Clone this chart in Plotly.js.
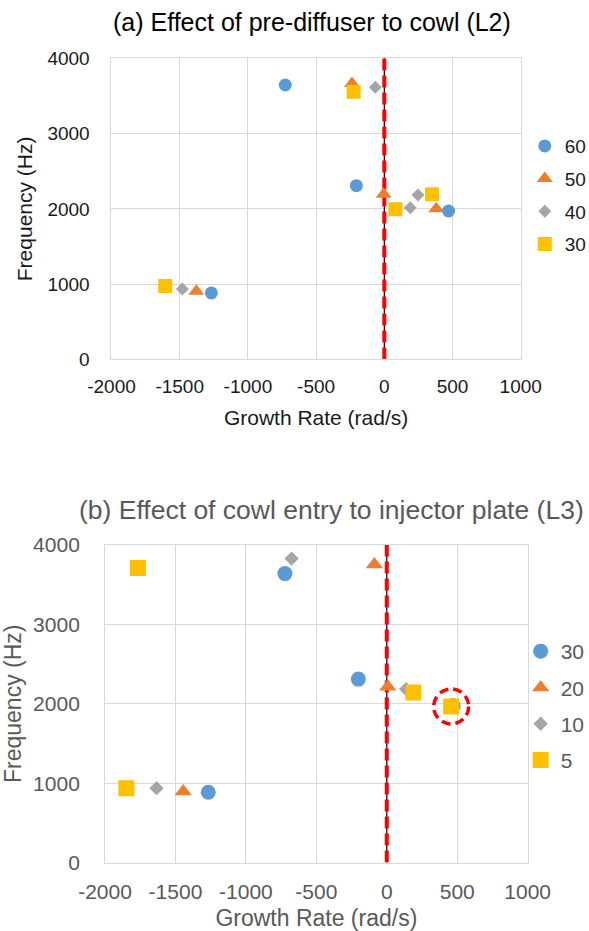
<!DOCTYPE html>
<html>
<head>
<meta charset="utf-8">
<script src="https://cdn.plot.ly/plotly-3.0.1.min.js"></script>
<style>html,body{margin:0;padding:0;background:#fff;}#chart{width:589px;height:931px;}</style>
</head>
<body>
<div id="chart"></div>
<script>
// ---------- Data: (a) Effect of pre-diffuser to cowl (L2) ----------
const namesA = ["60", "50", "40", "30"];
const a60x = [-1268, -726, -205, 471];
const a60y = [883, 3645, 2308, 1972];
const a50x = [-1378, -237, -5, 381];
const a50y = [905, 3665, 2195, 2000];
const a40x = [-1481, -66, 190, 247];
const a40y = [936, 3615, 2016, 2185];
const a30x = [-1606, -225, 81, 350];
const a30y = [976, 3557, 1995, 2194];

// ---------- Data: (b) Effect of cowl entry to injector plate (L3) ----------
const namesB = ["30", "20", "10", "5"];
const b30x = [-1267, -723, -202, 470];
const b30y = [886, 3640, 2311, 1975];
const b20x = [-1445, -88, 7, 465];
const b20y = [895, 3755, 2215, 1985];
const b10x = [-1634, -676, 137, 455];
const b10y = [937, 3829, 2185, 1975];
const b5x = [-1849, -1767, 189, 457];
const b5y = [937, 3711, 2143, 1966];

// highlighted point (b)
const highlightX = 457;
const highlightY = 1966;

// stability boundary
const boundaryX = [0, 0];
const boundaryY = [0, 4000];

// ticks
const xTicks = [-2000, -1500, -1000, -500, 0, 500, 1000];
const yTicks = [0, 1000, 2000, 3000, 4000];

const colors = ["#5B9BD5", "#ED7D31", "#A5A5A5", "#FFC000"];
const symbols = ["circle", "triangle-up", "diamond", "square"];
const sizesA = [13, 14, 10, 14];
const sizesB = [15, 15, 11, 16];

const FONT = "Liberation Sans, Arial, sans-serif";
const darkText = "#1a1a1a";
const greyText = "#595959";
const gridCol = "#d9d9d9";

const seriesA = [[a60x, a60y], [a50x, a50y], [a40x, a40y], [a30x, a30y]];
const seriesB = [[b30x, b30y], [b20x, b20y], [b10x, b10y], [b5x, b5y]];

const traces = [];
// boundary lines
[["x", "y"], ["x2", "y2"]].forEach(function (ax) {
  traces.push({x: boundaryX, y: boundaryY, xaxis: ax[0], yaxis: ax[1], mode: "lines",
    line: {color: "#000000", width: 1.2}, showlegend: false, hoverinfo: "skip"});
  traces.push({x: boundaryX, y: boundaryY, xaxis: ax[0], yaxis: ax[1], mode: "lines",
    line: {color: "#FF0000", width: 4, dash: "12px,5px"}, showlegend: false, hoverinfo: "skip"});
});

seriesA.forEach(function (s, i) {
  traces.push({x: s[0], y: s[1], xaxis: "x", yaxis: "y", mode: "markers", type: "scatter",
    name: namesA[i], legend: "legend", legendgroup: "a" + i,
    marker: {color: colors[i], symbol: symbols[i], size: sizesA[i]}});
});
seriesB.forEach(function (s, i) {
  traces.push({x: s[0], y: s[1], xaxis: "x2", yaxis: "y2", mode: "markers", type: "scatter",
    name: namesB[i], legend: "legend2", legendgroup: "b" + i,
    marker: {color: colors[i], symbol: symbols[i], size: sizesB[i]}});
});

function xaxisDef(domain, anchor, color, fsize, tfsize, standoff) {
  return {domain: domain, anchor: anchor, range: [-2000, 1000], tickvals: xTicks,
    ticktext: xTicks.map(String), showgrid: true, gridcolor: gridCol, gridwidth: 1,
    zeroline: false, showline: true, mirror: true, linecolor: gridCol, linewidth: 1,
    ticks: "", ticklabelstandoff: 10,
    tickfont: {family: FONT, size: fsize, color: color}, fixedrange: true,
    title: {text: "Growth Rate (rad/s)", font: {family: FONT, size: tfsize, color: color}, standoff: standoff}};
}
function yaxisDef(domain, anchor, color, fsize, tfsize, standoff, tls) {
  return {domain: domain, anchor: anchor, range: [0, 4000], tickvals: yTicks,
    ticktext: yTicks.map(String), showgrid: true, gridcolor: gridCol, gridwidth: 1,
    zeroline: false, showline: true, mirror: true, linecolor: gridCol, linewidth: 1,
    ticks: "", ticklabelstandoff: tls,
    tickfont: {family: FONT, size: fsize, color: color}, fixedrange: true,
    title: {text: "Frequency (Hz)", font: {family: FONT, size: tfsize, color: color}, standoff: standoff}};
}

const layout = {
  width: 589, height: 931,
  margin: {l: 0, r: 0, t: 0, b: 0, autoexpand: false},
  paper_bgcolor: "#ffffff", plot_bgcolor: "#ffffff",
  font: {family: FONT},
  xaxis: xaxisDef([0.1893, 0.8841], "y", darkText, 19, 21, 14),
  yaxis: yaxisDef([0.6139, 0.9374], "x", darkText, 19, 21, 9, 17),
  xaxis2: xaxisDef([0.1783, 0.8959], "y2", greyText, 21, 23, 14),
  yaxis2: yaxisDef([0.0735, 0.4146], "x2", greyText, 21, 23, 9, 20),
  legend: {x: 0.891, xanchor: "left", y: 0.7905, yanchor: "middle",
    font: {family: FONT, size: 19, color: darkText}, tracegroupgap: 5, bgcolor: "rgba(0,0,0,0)"},
  legend2: {x: 0.884, xanchor: "left", y: 0.2417, yanchor: "middle",
    font: {family: FONT, size: 21, color: greyText}, tracegroupgap: 6, bgcolor: "rgba(0,0,0,0)"},
  annotations: [
    {text: "(a) Effect of pre-diffuser to cowl (L2)", xref: "paper", yref: "paper",
      x: 0.5297, y: 1 - 22 / 931, xanchor: "center", yanchor: "middle", showarrow: false,
      font: {family: FONT, size: 25, color: "#000000"}},
    {text: "(b) Effect of cowl entry to injector plate (L3)", xref: "paper", yref: "paper",
      x: 0.5628, y: 1 - 510 / 931, xanchor: "center", yanchor: "middle", showarrow: false,
      font: {family: FONT, size: 26.5, color: greyText}}
  ],
  shapes: [
    {type: "circle", xref: "x2", yref: "y2", xsizemode: "pixel", ysizemode: "pixel",
      xanchor: highlightX, yanchor: highlightY, x0: -17.5, x1: 17.5, y0: -17.5, y1: 17.5,
      line: {color: "#FF0000", width: 3.5, dash: "9px,5px"}, layer: "above"}
  ],
  showlegend: true
};

Plotly.newPlot("chart", traces, layout, {displayModeBar: false, staticPlot: true});
</script>
</body>
</html>
